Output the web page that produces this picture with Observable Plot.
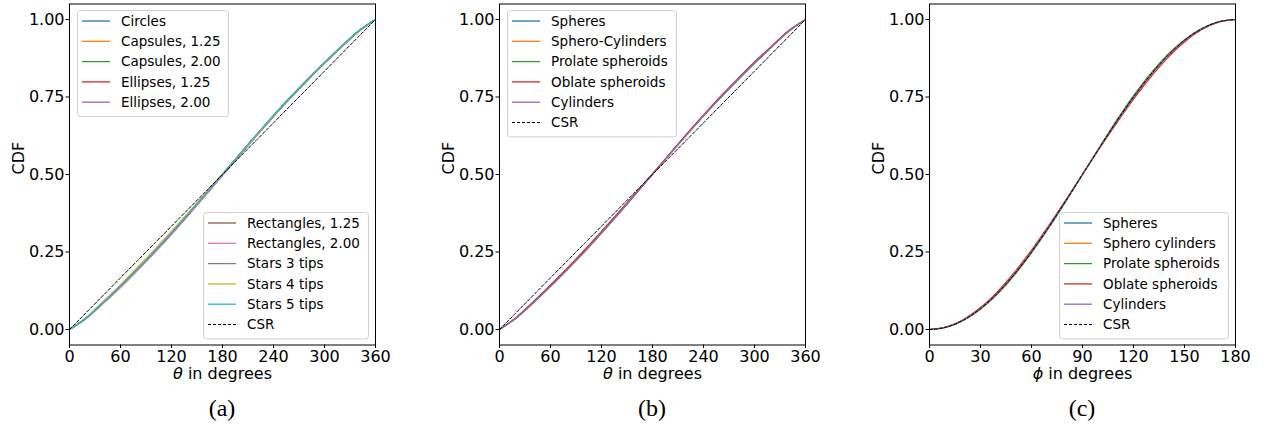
<!DOCTYPE html>
<html>
<head>
<meta charset="utf-8">
<script src="https://cdn.jsdelivr.net/npm/d3@7"></script>
<script src="https://cdn.jsdelivr.net/npm/@observablehq/plot@0.6"></script>
<style>
  body { margin: 0; background: white; }
  #wrap { position: relative; width: 1271px; height: 427px; background: white; font-family: "DejaVu Sans", sans-serif; }
  .panel { position: absolute; top: 0; }
  .cap { position: absolute; top: 385px; width: 100px; text-align: center; font-family: "Liberation Serif", "Times New Roman", serif; font-size: 24px; line-height: 46px; color: black; }
</style>
</head>
<body>
<div id="wrap"></div>
<script>
// ---------- DATA ----------
const thetaDeg = [0,20,40,60,80,100,120,140,160,180,200,220,240,260,280,300,320,340,360];
const phiDeg = [0,10,20,30,40,50,60,70,80,90,100,110,120,130,140,150,160,170,180];
const thetaTicks = [0,60,120,180,240,300,360];
const phiTicks = [0,30,60,90,120,150,180];
const cdfTicks = [0,0.25,0.5,0.75,1];

// Panel (a)
const aCircles     = [0,0.038,0.088,0.140,0.195,0.252,0.311,0.373,0.436,0.500,0.564,0.627,0.689,0.748,0.805,0.860,0.912,0.962,1];
const aCapsules125 = [0,0.039,0.089,0.141,0.196,0.253,0.312,0.374,0.437,0.501,0.565,0.628,0.690,0.749,0.806,0.861,0.913,0.963,1];
const aCapsules200 = [0,0.038,0.087,0.139,0.194,0.251,0.310,0.372,0.435,0.500,0.565,0.629,0.691,0.751,0.807,0.862,0.914,0.963,1];
const aEllipses125 = [0,0.037,0.087,0.139,0.194,0.251,0.310,0.372,0.435,0.499,0.563,0.626,0.688,0.747,0.804,0.859,0.911,0.961,1];
const aEllipses200 = [0,0.036,0.085,0.136,0.191,0.248,0.307,0.369,0.433,0.497,0.561,0.625,0.687,0.747,0.804,0.859,0.912,0.961,1];
const aRect125     = [0,0.037,0.086,0.138,0.193,0.250,0.309,0.371,0.434,0.498,0.562,0.626,0.688,0.748,0.805,0.860,0.912,0.962,1];
const aRect200     = [0,0.036,0.084,0.135,0.190,0.247,0.306,0.368,0.432,0.496,0.560,0.624,0.686,0.746,0.803,0.858,0.911,0.961,1];
const aStars3      = [0,0.038,0.088,0.141,0.196,0.253,0.313,0.375,0.438,0.501,0.564,0.627,0.689,0.748,0.805,0.860,0.912,0.962,1];
const aStars4      = [0,0.040,0.092,0.145,0.201,0.258,0.317,0.378,0.440,0.502,0.565,0.628,0.690,0.749,0.806,0.861,0.913,0.963,1];
const aStars5      = [0,0.038,0.088,0.140,0.195,0.252,0.312,0.374,0.437,0.501,0.565,0.629,0.691,0.750,0.807,0.862,0.914,0.963,1];
const csrTheta     = [0,0.0556,0.1111,0.1667,0.2222,0.2778,0.3333,0.3889,0.4444,0.5,0.5556,0.6111,0.6667,0.7222,0.7778,0.8333,0.8889,0.9444,1];

// Panel (b)
const bSpheres   = [0,0.040,0.090,0.143,0.198,0.255,0.314,0.375,0.438,0.501,0.564,0.627,0.688,0.747,0.803,0.858,0.910,0.961,1];
const bSpheroCyl = [0,0.039,0.089,0.142,0.197,0.254,0.314,0.375,0.438,0.501,0.565,0.628,0.690,0.749,0.805,0.860,0.911,0.962,1];
const bProlate   = [0,0.037,0.086,0.138,0.193,0.250,0.310,0.372,0.436,0.500,0.565,0.629,0.691,0.750,0.806,0.861,0.912,0.962,1];
const bOblate    = [0,0.039,0.090,0.143,0.199,0.257,0.317,0.378,0.440,0.503,0.566,0.630,0.692,0.752,0.808,0.863,0.914,0.964,1];
const bCylinders = [0,0.038,0.087,0.139,0.194,0.251,0.311,0.373,0.437,0.500,0.564,0.627,0.689,0.748,0.804,0.859,0.911,0.962,1];

// Panel (c)
const cSpheres   = [0,0.0078,0.0305,0.0675,0.1178,0.1795,0.2510,0.3298,0.4138,0.5002,0.5860,0.6695,0.7480,0.8193,0.8812,0.9318,0.9690,0.9921,1];
const cSpheroCyl = [0,0.0078,0.0306,0.0676,0.1178,0.1796,0.2510,0.3298,0.4138,0.5001,0.5862,0.6698,0.7483,0.8196,0.8815,0.9320,0.9692,0.9922,1];
const cProlate   = [0,0.0070,0.0288,0.0648,0.1140,0.1752,0.2465,0.3258,0.4110,0.4995,0.5885,0.6745,0.7545,0.8258,0.8865,0.9352,0.9710,0.9928,1];
const cOblate    = [0,0.0085,0.0325,0.0710,0.1225,0.1850,0.2565,0.3345,0.4170,0.5010,0.5840,0.6650,0.7420,0.8130,0.8755,0.9275,0.9665,0.9912,1];
const cCylinders = [0,0.0077,0.0304,0.0673,0.1175,0.1792,0.2506,0.3295,0.4136,0.5001,0.5862,0.6700,0.7486,0.8199,0.8818,0.9322,0.9693,0.9922,1];
const csrPhi     = [0,0.0076,0.0302,0.0670,0.1170,0.1786,0.25,0.3290,0.4132,0.5,0.5868,0.6710,0.75,0.8214,0.8830,0.9330,0.9698,0.9924,1];

const tab10 = ["#1f77b4","#ff7f0e","#2ca02c","#d62728","#9467bd","#8c564b","#e377c2","#7f7f7f","#bcbd22","#17becf"];

// ---------- PANELS ----------
const panels = [
  {
    left: 0, width: 430, cap: "(a)", xs: thetaDeg, xmax: 360, ticks: thetaTicks, sym: "θ",
    series: [
      ["Circles", aCircles], ["Capsules, 1.25", aCapsules125], ["Capsules, 2.00", aCapsules200],
      ["Ellipses, 1.25", aEllipses125], ["Ellipses, 2.00", aEllipses200], ["Rectangles, 1.25", aRect125],
      ["Rectangles, 2.00", aRect200], ["Stars 3 tips", aStars3], ["Stars 4 tips", aStars4], ["Stars 5 tips", aStars5]
    ],
    csr: csrTheta,
    legends: [
      {x: 77, y: 10, w: 151, items: [0,1,2,3,4]},
      {x: 203, y: 212, w: 165, items: [5,6,7,8,9,"csr"]}
    ]
  },
  {
    left: 430, width: 430, cap: "(b)", xs: thetaDeg, xmax: 360, ticks: thetaTicks, sym: "θ",
    series: [["Spheres", bSpheres], ["Sphero-Cylinders", bSpheroCyl], ["Prolate spheroids", bProlate], ["Oblate spheroids", bOblate], ["Cylinders", bCylinders]],
    csr: csrTheta,
    legends: [{x: 77, y: 10, w: 169, items: [0,1,2,3,4,"csr"]}]
  },
  {
    left: 860, width: 411, cap: "(c)", xs: phiDeg, xmax: 180, ticks: phiTicks, sym: "ϕ",
    series: [["Spheres", cSpheres], ["Sphero cylinders", cSpheroCyl], ["Prolate spheroids", cProlate], ["Oblate spheroids", cOblate], ["Cylinders", cCylinders]],
    csr: csrPhi,
    legends: [{x: 199, y: 212, w: 169, items: [0,1,2,3,4,"csr"]}]
  }
];

const wrap = document.getElementById("wrap");

panels.forEach(p => {
  const rows = [];
  p.series.forEach(([name, vals], i) => vals.forEach((v, j) => rows.push({name, i, x: p.xs[j], y: v})));
  const csrRows = p.csr.map((v, j) => ({x: p.xs[j], y: v}));
  const xlabel = p.sym + " in degrees";

  const plot = Plot.plot({
    width: p.width, height: 385,
    marginLeft: 69, marginRight: p.width - 69 - 306, marginTop: 3.5, marginBottom: 40.5,
    style: {fontFamily: "DejaVu Sans, sans-serif", fontSize: "16px", color: "black", background: "white", overflow: "visible"},
    x: {domain: [0, p.xmax]},
    y: {domain: [-0.05, 1.05]},
    marks: [
      ...p.series.map(([name], i) => Plot.line(rows.filter(r => r.i === i), {
        x: "x", y: "y", stroke: tab10[i], strokeWidth: 1.1, curve: "monotone-x"
      })),
      Plot.line(csrRows, {x: "x", y: "y", stroke: "black", strokeWidth: 1, strokeDasharray: "3,2", curve: "monotone-x"}),
      Plot.frame({stroke: "black", strokeWidth: 1}),
      Plot.axisX({ticks: p.ticks, tickSize: 3.5, tickPadding: 2, label: null, fontSize: 16, tickFormat: d => String(d)}),
      Plot.axisY({ticks: cdfTicks, tickSize: 3.5, tickPadding: 1.5, label: null, fontSize: 16, tickFormat: d => d.toFixed(2)}),
      Plot.text([xlabel], {frameAnchor: "bottom", dy: 28.5, lineAnchor: "middle", fontSize: 16, fill: "black"}),
      Plot.text(["CDF"], {frameAnchor: "left", dx: -51, rotate: -90, lineAnchor: "middle", fontSize: 16, fill: "black"})
    ]
  });

  const svg = d3.select(plot);
  // italic Greek symbol in the x label
  svg.selectAll("text").filter(function() { return this.textContent === xlabel; }).each(function() {
    const t = d3.select(this);
    t.text(null);
    t.append("tspan").attr("font-style", "italic").text(p.sym);
    t.append("tspan").text(" in degrees");
  });

  // legends
  p.legends.forEach(lg => {
    const g = svg.append("g").attr("font-family", "DejaVu Sans, sans-serif").attr("font-size", 13.5).attr("text-anchor", "start");
    const n = lg.items.length;
    const h = n * 20.3 + 4.5;
    g.append("rect").attr("x", lg.x + 0.5).attr("y", lg.y + 0.5).attr("width", lg.w).attr("height", h)
      .attr("rx", 3).attr("fill", "white").attr("fill-opacity", 0.8).attr("stroke", "#d0d0d0").attr("stroke-width", 1);
    lg.items.forEach((it, k) => {
      const cy = lg.y + 11 + k * 20.3;
      const isCsr = it === "csr";
      g.append("line").attr("x1", lg.x + 5).attr("x2", lg.x + 33).attr("y1", cy).attr("y2", cy)
        .attr("stroke", isCsr ? "black" : tab10[it]).attr("stroke-width", isCsr ? 1 : 1.3)
        .attr("stroke-dasharray", isCsr ? "3,2" : null);
      g.append("text").attr("x", lg.x + 44).attr("y", cy).attr("dy", "0.35em").attr("fill", "black")
        .attr("text-anchor", "start")
        .text(isCsr ? "CSR" : p.series[it][0]);
    });
  });

  const div = document.createElement("div");
  div.className = "panel";
  div.style.left = p.left + "px";
  div.appendChild(plot);
  wrap.appendChild(div);

  const cap = document.createElement("div");
  cap.className = "cap";
  cap.style.left = (p.left + 222 - 50) + "px";
  cap.textContent = p.cap;
  wrap.appendChild(cap);
});
</script>
</body>
</html>
